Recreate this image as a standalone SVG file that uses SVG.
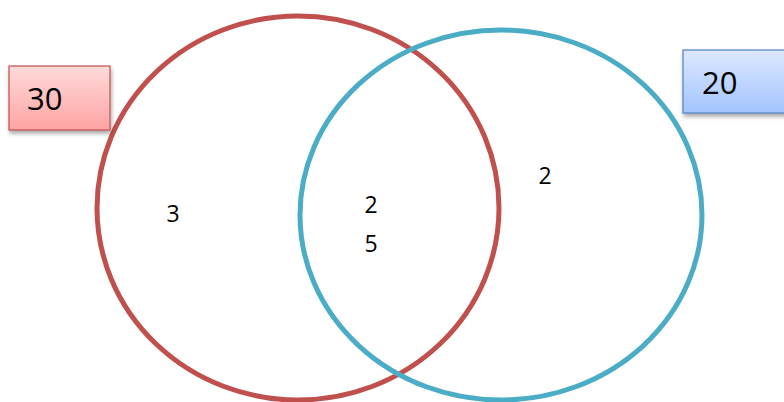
<svg xmlns="http://www.w3.org/2000/svg" width="784" height="402" viewBox="0 0 784 402">
<style>
.lbl{font-family:"Open Sans","Liberation Sans",sans-serif;fill:#000;}
.big{font-size:31px;}
.sm{font-size:23px;text-anchor:middle;}
</style>
<defs>
<linearGradient id="gr" x1="0" y1="0" x2="0" y2="1"><stop offset="0" stop-color="#FFDADA"/><stop offset="1" stop-color="#FFA3A3"/></linearGradient>
<linearGradient id="gb" x1="0" y1="0" x2="0" y2="1"><stop offset="0" stop-color="#DDE8FF"/><stop offset="1" stop-color="#A3C4FF"/></linearGradient>
<filter id="sh" x="-20%" y="-20%" width="150%" height="150%"><feGaussianBlur in="SourceAlpha" stdDeviation="2"/><feOffset dx="1" dy="3"/><feComponentTransfer><feFuncA type="linear" slope="0.35"/></feComponentTransfer><feMerge><feMergeNode/><feMergeNode in="SourceGraphic"/></feMerge></filter>
</defs>
<rect width="784" height="402" fill="#fff"/>
<g id="setA"><ellipse cx="298" cy="208" rx="201" ry="192" fill="none" stroke="#C0504D" stroke-width="5"/></g>
<g id="setB"><ellipse cx="501" cy="215" rx="201" ry="185" fill="none" stroke="#4BACC6" stroke-width="5"/></g>
<g id="box30"><rect x="9" y="66" width="101" height="64" fill="url(#gr)" stroke="#C0504D" stroke-width="1.2" filter="url(#sh)"/><text class="lbl big" x="27" y="110">30</text></g>
<g id="box20"><rect x="683" y="50" width="104" height="63" fill="url(#gb)" stroke="#4F81BD" stroke-width="1.2" filter="url(#sh)"/><text class="lbl big" x="702" y="94">20</text></g>
<g id="labels">
<text class="lbl sm" x="173" y="222">3</text>
<text class="lbl sm" x="371" y="213">2</text>
<text class="lbl sm" x="371" y="252">5</text>
<text class="lbl sm" x="545" y="184">2</text>
</g>
</svg>
